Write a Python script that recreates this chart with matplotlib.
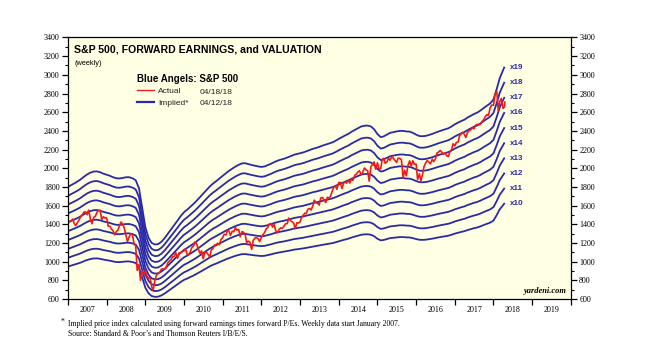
import numpy as np
import pandas as pd
import matplotlib
matplotlib.use("Agg")
import matplotlib.pyplot as plt
from matplotlib.ticker import MultipleLocator, NullFormatter

# ---------------- data ----------------
multiples = [10, 11, 12, 13, 14, 15, 16, 17, 18, 19]

# forward earnings (monthly, start of month) + last weekly point 04/12/18
fwd_eps = [
    94.7, 95.8, 96.7, 97.8, 99.0, 100.5, 101.8, 102.8, 103.4, 103.5, 103.0, 102.2,   # 2007
    101.6, 101.0, 100.2, 99.6, 99.5, 99.8, 100.2, 100.2, 99.6, 98.5, 94.0, 83.0,     # 2008
    72.0, 66.0, 63.2, 62.3, 62.5, 63.8, 65.8, 68.3, 70.8, 73.3, 75.8, 78.3,          # 2009
    80.5, 82.0, 83.5, 85.2, 87.0, 89.0, 91.0, 93.0, 95.0, 96.6, 98.0, 99.5,          # 2010
    101.0, 102.5, 103.8, 105.0, 106.2, 107.2, 108.0, 108.1, 107.6, 107.1, 106.7, 106.3,  # 2011
    106.0, 106.3, 107.0, 107.8, 108.7, 109.5, 110.1, 110.6, 111.3, 112.0, 112.8, 113.3,  # 2012
    113.7, 114.2, 114.8, 115.5, 116.2, 116.7, 117.3, 118.0, 118.6, 119.2, 119.8, 120.7,  # 2013
    121.8, 122.8, 123.7, 124.6, 125.8, 126.8, 127.8, 128.8, 129.2, 129.3, 128.8, 127.2,  # 2014
    124.5, 122.8, 123.2, 124.2, 125.2, 125.6, 126.0, 126.3, 126.3, 126.0, 125.9, 125.2,  # 2015
    124.2, 123.4, 123.3, 123.5, 124.0, 124.6, 125.3, 126.0, 126.6, 127.2, 127.8, 128.8,  # 2016
    130.0, 131.0, 131.8, 132.6, 133.8, 134.8, 135.8, 136.6, 137.8, 139.2, 140.5, 141.8,  # 2017
    144.0, 150.0, 156.0, 160.5, 162.0,                                                  # 2018
]
fe_dates = pd.date_range("2007-01-01", "2018-04-01", freq="MS").append(
    pd.DatetimeIndex(["2018-04-12"]))

# S&P 500 (semi-monthly) + last point 04/18/18
sp500 = [
    1431, 1438, 1456, 1407, 1387, 1421, 1445, 1482, 1501, 1531, 1533, 1503,
    1552, 1455, 1406, 1474, 1484, 1527, 1548, 1549, 1451, 1481, 1467, 1468,   # 2007
    1380, 1379, 1349, 1331, 1288, 1323, 1334, 1386, 1424, 1400, 1360, 1280,
    1215, 1267, 1298, 1283, 1193, 1165, 907, 969, 800, 896, 868, 903,         # 2008
    843, 826, 827, 735, 690, 798, 852, 873, 882, 919, 923, 919,
    932, 987, 1004, 1021, 1052, 1057, 1096, 1036, 1093, 1096, 1108, 1115,     # 2009
    1136, 1074, 1075, 1104, 1150, 1169, 1211, 1187, 1135, 1089, 1115, 1031,
    1096, 1102, 1079, 1049, 1125, 1141, 1176, 1183, 1197, 1181, 1235, 1258,   # 2010
    1293, 1286, 1336, 1327, 1281, 1326, 1320, 1364, 1337, 1345, 1266, 1321,
    1316, 1292, 1204, 1219, 1209, 1131, 1225, 1253, 1257, 1247, 1216, 1258,   # 2011
    1289, 1312, 1350, 1366, 1402, 1408, 1370, 1398, 1331, 1310, 1343, 1362,
    1356, 1379, 1405, 1407, 1466, 1441, 1428, 1412, 1353, 1416, 1413, 1426,   # 2012
    1472, 1498, 1519, 1515, 1561, 1569, 1553, 1597, 1658, 1631, 1626, 1606,
    1682, 1686, 1661, 1633, 1688, 1682, 1698, 1757, 1798, 1806, 1775, 1848,   # 2013
    1848, 1783, 1838, 1859, 1841, 1872, 1842, 1884, 1870, 1924, 1936, 1960,
    1973, 1931, 1955, 2003, 1984, 1972, 1862, 2018, 2039, 2068, 1990, 2059,   # 2014
    1993, 1995, 2097, 2105, 2053, 2068, 2106, 2086, 2123, 2107, 2084, 2063,
    2108, 2104, 2092, 1895, 1979, 1920, 2024, 2079, 2023, 2080, 2043, 2044,   # 2015
    1880, 1940, 1865, 1932, 2015, 2060, 2081, 2065, 2047, 2097, 2071, 2099,
    2162, 2174, 2190, 2171, 2147, 2168, 2133, 2126, 2180, 2199, 2262, 2239,   # 2016
    2275, 2279, 2349, 2364, 2385, 2363, 2329, 2384, 2400, 2412, 2432, 2423,
    2459, 2470, 2464, 2472, 2500, 2519, 2553, 2575, 2565, 2648, 2676, 2674,   # 2017
    2786, 2824, 2620, 2714, 2747, 2641, 2656, 2708,                           # 2018
]
sp_dates = pd.date_range("2007-01-15", periods=len(sp500) - 1, freq="SMS").append(
    pd.DatetimeIndex(["2018-04-18"]))

year_labels = [str(y) for y in range(2007, 2020)]


def dec_year(idx):
    idx = pd.DatetimeIndex(idx)
    return idx.year + (idx.dayofyear - 1) / 365.25


# ---------------- figure ----------------
BLUE = "#2a2aa8"
RED = "#f01a1a"
SERIF = ["Liberation Serif", "DejaVu Serif"]
SANS = ["Liberation Sans", "DejaVu Sans"]

fig = plt.figure(figsize=(6.70, 3.62), dpi=100)
ax = fig.add_axes([0.1015, 0.174, 0.7505, 0.7225])
ax.set_facecolor("#ffffe4")

tfe = dec_year(fe_dates)
eps = np.array(fwd_eps)
for m in multiples:
    ax.plot(tfe, eps * m, color=BLUE, lw=1.3, solid_joinstyle="round")
    ax.annotate(f"x{m}", xy=(tfe[-1], eps[-1] * m), xytext=(4, 0),
                textcoords="offset points", color=BLUE, fontsize=5.8,
                fontweight="bold", family=SANS, va="center", ha="left")

tsp = dec_year(sp_dates)
ax.plot(tsp, sp500, color=RED, lw=1.2)

ax.set_xlim(2007, 2020)
ax.set_ylim(600, 3400)

# x ticks: boundaries (unlabeled) and mid-year labels
ax.set_xticks(np.arange(2007, 2021))
ax.xaxis.set_major_formatter(NullFormatter())
ax.set_xticks(np.arange(2007.5, 2020), minor=True)
ax.set_xticklabels(year_labels, minor=True)
ax.tick_params(axis="x", which="major", direction="out", length=4, width=0.9)
ax.tick_params(axis="x", which="minor", length=0, pad=5, labelsize=5.8)

# y ticks both sides
ax.yaxis.set_major_locator(MultipleLocator(200))
ax.yaxis.set_minor_locator(MultipleLocator(100))
ax.tick_params(axis="y", which="both", left=True, right=True,
               labelleft=True, labelright=True, direction="out")
ax.tick_params(axis="y", which="major", length=4.5, width=0.9, labelsize=5.8, pad=1.5)
ax.tick_params(axis="y", which="minor", length=2.5, width=0.8)
for lab in ax.get_xticklabels(minor=True):
    lab.set_family(SERIF)
for lab in ax.yaxis.get_ticklabels(which="major"):
    lab.set_family(SERIF)
for t in ax.yaxis.get_major_ticks():
    t.label2.set_family(SERIF)
for sp in ax.spines.values():
    sp.set_linewidth(0.9)

# title
ax.text(0.012, 0.972, "S&P 500, FORWARD EARNINGS, and VALUATION",
        transform=ax.transAxes, fontsize=7.6, fontweight="bold", family=SANS,
        va="top", ha="left")
ax.text(0.012, 0.912, "(weekly)", transform=ax.transAxes, fontsize=5.3,
        family=SANS, va="top", ha="left")

# legend
h_act, = ax.plot([], [], color=RED, lw=1.0)
h_imp, = ax.plot([], [], color=BLUE, lw=1.6)
leg = ax.legend([h_act, h_imp], ["Actual", "Implied*"],
                title="Blue Angels: S&P 500", loc="upper left",
                bbox_to_anchor=(0.138, 0.862), frameon=False,
                fontsize=6, handlelength=2.0, handletextpad=0.5,
                labelspacing=0.45, borderaxespad=0, borderpad=0,
                alignment="left")
leg.get_title().set_fontweight("bold")
leg.get_title().set_fontsize(7)
leg.get_title().set_family(SANS)
for t in leg.get_texts():
    t.set_family(SANS)
    t.set_color("#222222")
ax.text(0.262, 0.790, "04/18/18", transform=ax.transAxes, fontsize=6,
        family=SANS, va="center", ha="left", color="#222222")
ax.text(0.262, 0.748, "04/12/18", transform=ax.transAxes, fontsize=6,
        family=SANS, va="center", ha="left", color="#222222")

ax.text(0.992, 0.015, "yardeni.com", transform=ax.transAxes, fontsize=6,
        fontweight="bold", style="italic", family=SERIF, ha="right",
        va="bottom")

# footnotes
fig.text(0.091, 0.112, "*", fontsize=5.6, family=SERIF, va="center")
fig.text(0.101, 0.106,
         "Implied price index calculated using forward earnings times forward P/Es. "
         "Weekly data start January 2007.", fontsize=5.6, family=SERIF,
         va="center")
fig.text(0.101, 0.076, "Source: Standard & Poor\u2019s and Thomson Reuters I/B/E/S.",
         fontsize=5.6, family=SERIF, va="center")

fig.savefig("out.png", dpi=100)
